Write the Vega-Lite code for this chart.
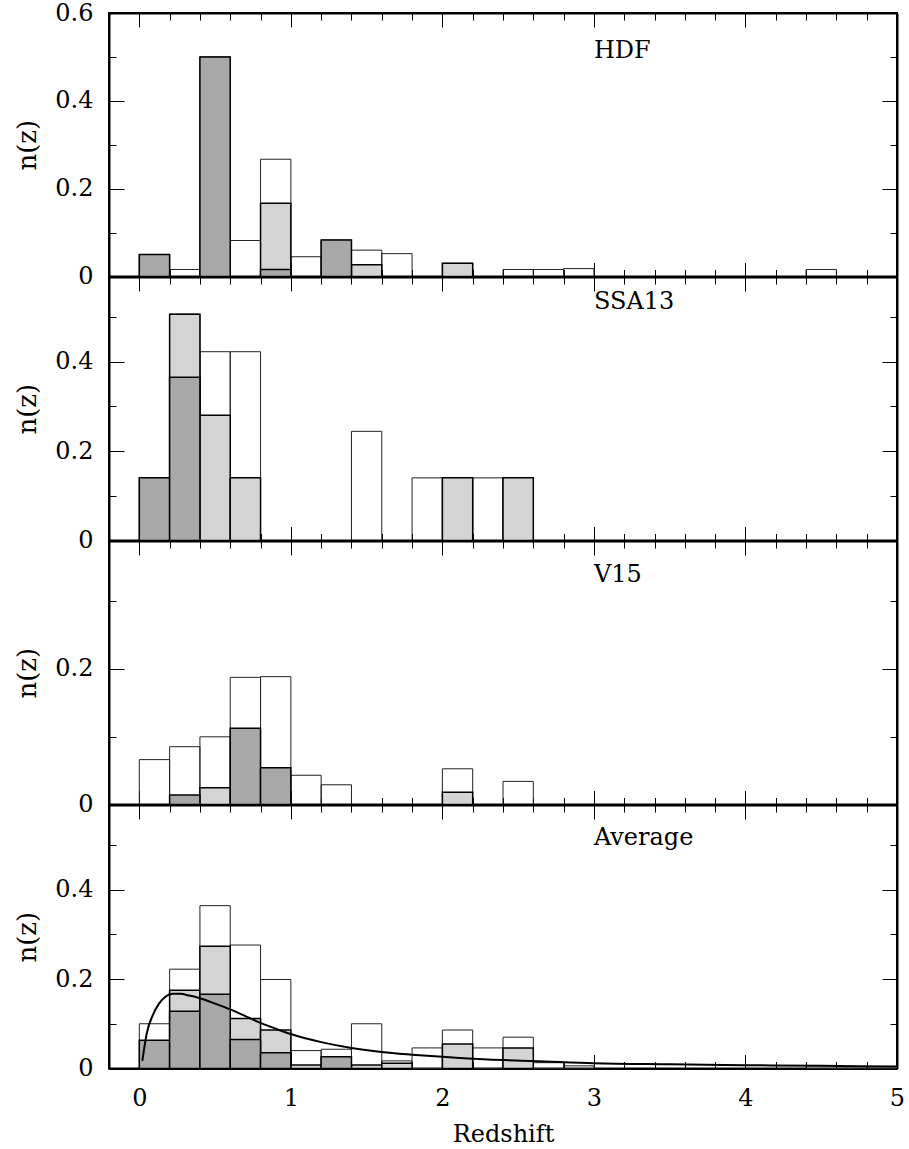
{
  "$schema": "https://vega.github.io/schema/vega-lite/v6.json",
  "background": "white",
  "padding": {"top": 0, "left": 13, "right": 12, "bottom": 0},
  "spacing": 0,
  "bounds": "flush",
  "config": {
    "view": {"stroke": "black", "strokeWidth": 2},
    "concat": {"spacing": 0},
    "axis": {
      "domain": true, "domainColor": "black", "domainWidth": 2, "grid": false, "tickColor": "black", "tickWidth": 1,
      "labelFont": "DejaVu Serif", "labelFontSize": 24, "labelColor": "black",
      "titleFont": "DejaVu Serif", "titleFontSize": 26, "titleFontWeight": "normal", "titleColor": "black",
      "labelFlush": false, "labelOverlap": false, "labelBound": false
    }
  },
  "datasets": {
    "bars": [
      {"p": "HDF", "k": "open", "z0": 0, "z1": 0.2, "n": 0.05},
      {"p": "HDF", "k": "open", "z0": 0.2, "z1": 0.4, "n": 0.016},
      {"p": "HDF", "k": "open", "z0": 0.4, "z1": 0.6, "n": 0.5},
      {"p": "HDF", "k": "open", "z0": 0.6, "z1": 0.8, "n": 0.082},
      {"p": "HDF", "k": "open", "z0": 0.8, "z1": 1.0, "n": 0.267},
      {"p": "HDF", "k": "open", "z0": 1.0, "z1": 1.2, "n": 0.045},
      {"p": "HDF", "k": "open", "z0": 1.2, "z1": 1.4, "n": 0.083},
      {"p": "HDF", "k": "open", "z0": 1.4, "z1": 1.6, "n": 0.06},
      {"p": "HDF", "k": "open", "z0": 1.6, "z1": 1.8, "n": 0.052},
      {"p": "HDF", "k": "open", "z0": 2.0, "z1": 2.2, "n": 0.03},
      {"p": "HDF", "k": "open", "z0": 2.4, "z1": 2.6, "n": 0.016},
      {"p": "HDF", "k": "open", "z0": 2.6, "z1": 2.8, "n": 0.016},
      {"p": "HDF", "k": "open", "z0": 2.8, "z1": 3.0, "n": 0.018},
      {"p": "HDF", "k": "open", "z0": 4.4, "z1": 4.6, "n": 0.016},
      {"p": "HDF", "k": "hatch", "z0": 0.8, "z1": 1.0, "n": 0.167},
      {"p": "HDF", "k": "hatch", "z0": 1.4, "z1": 1.6, "n": 0.027},
      {"p": "HDF", "k": "hatch", "z0": 2.0, "z1": 2.2, "n": 0.03},
      {"p": "HDF", "k": "cross", "z0": 0, "z1": 0.2, "n": 0.05},
      {"p": "HDF", "k": "cross", "z0": 0.4, "z1": 0.6, "n": 0.5},
      {"p": "HDF", "k": "cross", "z0": 0.8, "z1": 1.0, "n": 0.016},
      {"p": "HDF", "k": "cross", "z0": 1.2, "z1": 1.4, "n": 0.083},

      {"p": "SSA13", "k": "open", "z0": 0, "z1": 0.2, "n": 0.14},
      {"p": "SSA13", "k": "open", "z0": 0.2, "z1": 0.4, "n": 0.506},
      {"p": "SSA13", "k": "open", "z0": 0.4, "z1": 0.6, "n": 0.422},
      {"p": "SSA13", "k": "open", "z0": 0.6, "z1": 0.8, "n": 0.422},
      {"p": "SSA13", "k": "open", "z0": 1.4, "z1": 1.6, "n": 0.244},
      {"p": "SSA13", "k": "open", "z0": 1.8, "z1": 2.0, "n": 0.14},
      {"p": "SSA13", "k": "open", "z0": 2.0, "z1": 2.2, "n": 0.14},
      {"p": "SSA13", "k": "open", "z0": 2.2, "z1": 2.4, "n": 0.14},
      {"p": "SSA13", "k": "open", "z0": 2.4, "z1": 2.6, "n": 0.14},
      {"p": "SSA13", "k": "hatch", "z0": 0.2, "z1": 0.4, "n": 0.506},
      {"p": "SSA13", "k": "hatch", "z0": 0.4, "z1": 0.6, "n": 0.28},
      {"p": "SSA13", "k": "hatch", "z0": 0.6, "z1": 0.8, "n": 0.14},
      {"p": "SSA13", "k": "hatch", "z0": 2.0, "z1": 2.2, "n": 0.14},
      {"p": "SSA13", "k": "hatch", "z0": 2.4, "z1": 2.6, "n": 0.14},
      {"p": "SSA13", "k": "cross", "z0": 0, "z1": 0.2, "n": 0.14},
      {"p": "SSA13", "k": "cross", "z0": 0.2, "z1": 0.4, "n": 0.365},

      {"p": "V15", "k": "open", "z0": 0, "z1": 0.2, "n": 0.066},
      {"p": "V15", "k": "open", "z0": 0.2, "z1": 0.4, "n": 0.085},
      {"p": "V15", "k": "open", "z0": 0.4, "z1": 0.6, "n": 0.0995},
      {"p": "V15", "k": "open", "z0": 0.6, "z1": 0.8, "n": 0.187},
      {"p": "V15", "k": "open", "z0": 0.8, "z1": 1.0, "n": 0.188},
      {"p": "V15", "k": "open", "z0": 1.0, "z1": 1.2, "n": 0.043},
      {"p": "V15", "k": "open", "z0": 1.2, "z1": 1.4, "n": 0.029},
      {"p": "V15", "k": "open", "z0": 2.0, "z1": 2.2, "n": 0.0525},
      {"p": "V15", "k": "open", "z0": 2.4, "z1": 2.6, "n": 0.034},
      {"p": "V15", "k": "hatch", "z0": 0.4, "z1": 0.6, "n": 0.0245},
      {"p": "V15", "k": "hatch", "z0": 2.0, "z1": 2.2, "n": 0.018},
      {"p": "V15", "k": "cross", "z0": 0.2, "z1": 0.4, "n": 0.014},
      {"p": "V15", "k": "cross", "z0": 0.6, "z1": 0.8, "n": 0.112},
      {"p": "V15", "k": "cross", "z0": 0.8, "z1": 1.0, "n": 0.054},

      {"p": "Average", "k": "open", "z0": 0, "z1": 0.2, "n": 0.1},
      {"p": "Average", "k": "open", "z0": 0.2, "z1": 0.4, "n": 0.222},
      {"p": "Average", "k": "open", "z0": 0.4, "z1": 0.6, "n": 0.364},
      {"p": "Average", "k": "open", "z0": 0.6, "z1": 0.8, "n": 0.276},
      {"p": "Average", "k": "open", "z0": 0.8, "z1": 1.0, "n": 0.199},
      {"p": "Average", "k": "open", "z0": 1.0, "z1": 1.2, "n": 0.04},
      {"p": "Average", "k": "open", "z0": 1.2, "z1": 1.4, "n": 0.043},
      {"p": "Average", "k": "open", "z0": 1.4, "z1": 1.6, "n": 0.1},
      {"p": "Average", "k": "open", "z0": 1.6, "z1": 1.8, "n": 0.017},
      {"p": "Average", "k": "open", "z0": 1.8, "z1": 2.0, "n": 0.046},
      {"p": "Average", "k": "open", "z0": 2.0, "z1": 2.2, "n": 0.086},
      {"p": "Average", "k": "open", "z0": 2.2, "z1": 2.4, "n": 0.046},
      {"p": "Average", "k": "open", "z0": 2.4, "z1": 2.6, "n": 0.07},
      {"p": "Average", "k": "open", "z0": 2.6, "z1": 2.8, "n": 0.013},
      {"p": "Average", "k": "open", "z0": 2.8, "z1": 3.0, "n": 0.006},
      {"p": "Average", "k": "open", "z0": 4.4, "z1": 4.6, "n": 0.006},
      {"p": "Average", "k": "open", "z0": 4.6, "z1": 4.8, "n": 0.004},
      {"p": "Average", "k": "open", "z0": 4.8, "z1": 5.0, "n": 0.004},
      {"p": "Average", "k": "hatch", "z0": 0.2, "z1": 0.4, "n": 0.175},
      {"p": "Average", "k": "hatch", "z0": 0.4, "z1": 0.6, "n": 0.273},
      {"p": "Average", "k": "hatch", "z0": 0.6, "z1": 0.8, "n": 0.112},
      {"p": "Average", "k": "hatch", "z0": 0.8, "z1": 1.0, "n": 0.086},
      {"p": "Average", "k": "hatch", "z0": 1.0, "z1": 1.2, "n": 0.008},
      {"p": "Average", "k": "hatch", "z0": 1.4, "z1": 1.6, "n": 0.008},
      {"p": "Average", "k": "hatch", "z0": 1.6, "z1": 1.8, "n": 0.012},
      {"p": "Average", "k": "hatch", "z0": 2.0, "z1": 2.2, "n": 0.055},
      {"p": "Average", "k": "hatch", "z0": 2.4, "z1": 2.6, "n": 0.046},
      {"p": "Average", "k": "cross", "z0": 0, "z1": 0.2, "n": 0.063},
      {"p": "Average", "k": "cross", "z0": 0.2, "z1": 0.4, "n": 0.128},
      {"p": "Average", "k": "cross", "z0": 0.4, "z1": 0.6, "n": 0.166},
      {"p": "Average", "k": "cross", "z0": 0.6, "z1": 0.8, "n": 0.065},
      {"p": "Average", "k": "cross", "z0": 0.8, "z1": 1.0, "n": 0.035},
      {"p": "Average", "k": "cross", "z0": 1.2, "z1": 1.4, "n": 0.026}
    ],
    "curve": [
      {"z": 0.02, "v": 0.017}, {"z": 0.05, "v": 0.08}, {"z": 0.09, "v": 0.12},
      {"z": 0.13, "v": 0.145}, {"z": 0.17, "v": 0.16}, {"z": 0.22, "v": 0.167},
      {"z": 0.27, "v": 0.167}, {"z": 0.33, "v": 0.163}, {"z": 0.4, "v": 0.157},
      {"z": 0.5, "v": 0.145}, {"z": 0.6, "v": 0.132}, {"z": 0.7, "v": 0.117},
      {"z": 0.8, "v": 0.102}, {"z": 0.9, "v": 0.089}, {"z": 1.0, "v": 0.077},
      {"z": 1.2, "v": 0.059}, {"z": 1.4, "v": 0.046}, {"z": 1.6, "v": 0.037},
      {"z": 1.8, "v": 0.031}, {"z": 2.0, "v": 0.026}, {"z": 2.3, "v": 0.02},
      {"z": 2.6, "v": 0.017}, {"z": 3.0, "v": 0.012}, {"z": 3.5, "v": 0.0095},
      {"z": 4.0, "v": 0.0075}, {"z": 4.5, "v": 0.006}, {"z": 5.0, "v": 0.0045}
    ],
    "labels": [
      {"p": "HDF", "z": 3.0, "v": 0.497, "t": "HDF"},
      {"p": "SSA13", "z": 3.0, "v": 0.517, "t": "SSA13"},
      {"p": "V15", "z": 3.0, "v": 0.327, "t": "V15"},
      {"p": "Average", "z": 3.0, "v": 0.499, "t": "Average"}
    ]
  },
  "vconcat": [
    {
      "width": 788, "height": 263.5,
      "resolve": {"axis": {"x": "independent", "y": "independent"}},
      "layer": [
        {"data": {"name": "bars"}, "transform": [{"filter": "datum.p==='HDF' && datum.k==='open'"}],
         "mark": {"type": "bar", "fill": "transparent", "stroke": "#222222", "strokeWidth": 1},
         "encoding": {
           "x": {"field": "z0", "type": "quantitative", "scale": {"domain": [-0.2, 5], "nice": false, "zero": false},
                 "axis": {"orient": "bottom", "values": [0,0.2,0.4,0.6,0.8,1,1.2,1.4,1.6,1.8,2,2.2,2.4,2.6,2.8,3,3.2,3.4,3.6,3.8,4,4.2,4.4,4.6,4.8,5], "labels": false, "title": null,
                          "tickSize": {"condition": {"test": "abs(datum.value-round(datum.value))<0.001", "value": -14}, "value": -7}}},
           "x2": {"field": "z1"},
           "y": {"field": "n", "type": "quantitative", "scale": {"domain": [0, 0.6], "nice": false},
                 "axis": {"orient": "left", "values": [0,0.1,0.2,0.3,0.4,0.5,0.6], "title": "n(z)", "labelPadding": 31, "titlePadding": 14,
                          "labelExpr": "round(datum.value*10)%2===0 ? format(datum.value,'~g') : ''",
                          "tickSize": {"condition": {"test": "round(datum.value*10)%2===0", "value": -15}, "value": -7}}},
           "y2": {"datum": 0}
         }},
        {"data": {"name": "bars"}, "transform": [{"filter": "datum.p==='HDF' && datum.k==='hatch'"}],
         "mark": {"type": "bar", "fill": "#d4d4d4", "stroke": "black", "strokeWidth": 1.5},
         "encoding": {
           "x": {"field": "z0", "type": "quantitative", "scale": {"domain": [-0.2, 5], "nice": false, "zero": false},
                 "axis": {"orient": "top", "values": [0,0.2,0.4,0.6,0.8,1,1.2,1.4,1.6,1.8,2,2.2,2.4,2.6,2.8,3,3.2,3.4,3.6,3.8,4,4.2,4.4,4.6,4.8,5], "labels": false, "title": null,
                          "tickSize": {"condition": {"test": "abs(datum.value-round(datum.value))<0.001", "value": -14}, "value": -7}}},
           "x2": {"field": "z1"},
           "y": {"field": "n", "type": "quantitative", "scale": {"domain": [0, 0.6], "nice": false},
                 "axis": {"orient": "right", "values": [0,0.1,0.2,0.3,0.4,0.5,0.6], "labels": false, "title": null,
                          "tickSize": {"condition": {"test": "round(datum.value*10)%2===0", "value": -15}, "value": -7}}},
           "y2": {"datum": 0}
         }},
        {"data": {"name": "bars"}, "transform": [{"filter": "datum.p==='HDF' && datum.k==='cross'"}],
         "mark": {"type": "bar", "fill": "#a8a8a8", "stroke": "black", "strokeWidth": 1.5},
         "encoding": {
           "x": {"field": "z0", "type": "quantitative", "scale": {"domain": [-0.2, 5], "nice": false, "zero": false}, "axis": null},
           "x2": {"field": "z1"},
           "y": {"field": "n", "type": "quantitative", "scale": {"domain": [0, 0.6], "nice": false}, "axis": null},
           "y2": {"datum": 0}
         }},
        {"data": {"name": "labels"}, "transform": [{"filter": "datum.p==='HDF'"}],
         "mark": {"type": "text", "align": "left", "baseline": "alphabetic", "font": "DejaVu Serif", "fontSize": 24, "color": "black"},
         "encoding": {
           "x": {"field": "z", "type": "quantitative", "scale": {"domain": [-0.2, 5], "nice": false, "zero": false}, "axis": null},
           "y": {"field": "v", "type": "quantitative", "scale": {"domain": [0, 0.6], "nice": false}, "axis": null},
           "text": {"field": "t"}
         }}
      ]
    },
    {
      "width": 788, "height": 263.5,
      "resolve": {"axis": {"x": "independent", "y": "independent"}},
      "layer": [
        {"data": {"name": "bars"}, "transform": [{"filter": "datum.p==='SSA13' && datum.k==='open'"}],
         "mark": {"type": "bar", "fill": "transparent", "stroke": "#222222", "strokeWidth": 1},
         "encoding": {
           "x": {"field": "z0", "type": "quantitative", "scale": {"domain": [-0.2, 5], "nice": false, "zero": false},
                 "axis": {"orient": "bottom", "values": [0,0.2,0.4,0.6,0.8,1,1.2,1.4,1.6,1.8,2,2.2,2.4,2.6,2.8,3,3.2,3.4,3.6,3.8,4,4.2,4.4,4.6,4.8,5], "labels": false, "title": null,
                          "tickSize": {"condition": {"test": "abs(datum.value-round(datum.value))<0.001", "value": -14}, "value": -7}}},
           "x2": {"field": "z1"},
           "y": {"field": "n", "type": "quantitative", "scale": {"domain": [0, 0.589], "nice": false},
                 "axis": {"orient": "left", "values": [0,0.1,0.2,0.3,0.4,0.5], "title": "n(z)", "labelPadding": 31, "titlePadding": 14,
                          "labelExpr": "round(datum.value*10)%2===0 ? format(datum.value,'~g') : ''",
                          "tickSize": {"condition": {"test": "round(datum.value*10)%2===0", "value": -15}, "value": -7}}},
           "y2": {"datum": 0}
         }},
        {"data": {"name": "bars"}, "transform": [{"filter": "datum.p==='SSA13' && datum.k==='hatch'"}],
         "mark": {"type": "bar", "fill": "#d4d4d4", "stroke": "black", "strokeWidth": 1.5},
         "encoding": {
           "x": {"field": "z0", "type": "quantitative", "scale": {"domain": [-0.2, 5], "nice": false, "zero": false},
                 "axis": {"orient": "top", "values": [0,0.2,0.4,0.6,0.8,1,1.2,1.4,1.6,1.8,2,2.2,2.4,2.6,2.8,3,3.2,3.4,3.6,3.8,4,4.2,4.4,4.6,4.8,5], "labels": false, "title": null,
                          "tickSize": {"condition": {"test": "abs(datum.value-round(datum.value))<0.001", "value": -14}, "value": -7}}},
           "x2": {"field": "z1"},
           "y": {"field": "n", "type": "quantitative", "scale": {"domain": [0, 0.589], "nice": false},
                 "axis": {"orient": "right", "values": [0,0.1,0.2,0.3,0.4,0.5], "labels": false, "title": null,
                          "tickSize": {"condition": {"test": "round(datum.value*10)%2===0", "value": -15}, "value": -7}}},
           "y2": {"datum": 0}
         }},
        {"data": {"name": "bars"}, "transform": [{"filter": "datum.p==='SSA13' && datum.k==='cross'"}],
         "mark": {"type": "bar", "fill": "#a8a8a8", "stroke": "black", "strokeWidth": 1.5},
         "encoding": {
           "x": {"field": "z0", "type": "quantitative", "scale": {"domain": [-0.2, 5], "nice": false, "zero": false}, "axis": null},
           "x2": {"field": "z1"},
           "y": {"field": "n", "type": "quantitative", "scale": {"domain": [0, 0.589], "nice": false}, "axis": null},
           "y2": {"datum": 0}
         }},
        {"data": {"name": "labels"}, "transform": [{"filter": "datum.p==='SSA13'"}],
         "mark": {"type": "text", "align": "left", "baseline": "alphabetic", "font": "DejaVu Serif", "fontSize": 24, "color": "black"},
         "encoding": {
           "x": {"field": "z", "type": "quantitative", "scale": {"domain": [-0.2, 5], "nice": false, "zero": false}, "axis": null},
           "y": {"field": "v", "type": "quantitative", "scale": {"domain": [0, 0.589], "nice": false}, "axis": null},
           "text": {"field": "t"}
         }}
      ]
    },
    {
      "width": 788, "height": 263.5,
      "resolve": {"axis": {"x": "independent", "y": "independent"}},
      "layer": [
        {"data": {"name": "bars"}, "transform": [{"filter": "datum.p==='V15' && datum.k==='open'"}],
         "mark": {"type": "bar", "fill": "transparent", "stroke": "#222222", "strokeWidth": 1},
         "encoding": {
           "x": {"field": "z0", "type": "quantitative", "scale": {"domain": [-0.2, 5], "nice": false, "zero": false},
                 "axis": {"orient": "bottom", "values": [0,0.2,0.4,0.6,0.8,1,1.2,1.4,1.6,1.8,2,2.2,2.4,2.6,2.8,3,3.2,3.4,3.6,3.8,4,4.2,4.4,4.6,4.8,5], "labels": false, "title": null,
                          "tickSize": {"condition": {"test": "abs(datum.value-round(datum.value))<0.001", "value": -14}, "value": -7}}},
           "x2": {"field": "z1"},
           "y": {"field": "n", "type": "quantitative", "scale": {"domain": [0, 0.3875], "nice": false},
                 "axis": {"orient": "left", "values": [0,0.1,0.2,0.3], "title": "n(z)", "labelPadding": 31, "titlePadding": 14,
                          "labelExpr": "round(datum.value*10)%2===0 ? format(datum.value,'~g') : ''",
                          "tickSize": {"condition": {"test": "round(datum.value*10)%2===0", "value": -15}, "value": -7}}},
           "y2": {"datum": 0}
         }},
        {"data": {"name": "bars"}, "transform": [{"filter": "datum.p==='V15' && datum.k==='hatch'"}],
         "mark": {"type": "bar", "fill": "#d4d4d4", "stroke": "black", "strokeWidth": 1.5},
         "encoding": {
           "x": {"field": "z0", "type": "quantitative", "scale": {"domain": [-0.2, 5], "nice": false, "zero": false},
                 "axis": {"orient": "top", "values": [0,0.2,0.4,0.6,0.8,1,1.2,1.4,1.6,1.8,2,2.2,2.4,2.6,2.8,3,3.2,3.4,3.6,3.8,4,4.2,4.4,4.6,4.8,5], "labels": false, "title": null,
                          "tickSize": {"condition": {"test": "abs(datum.value-round(datum.value))<0.001", "value": -14}, "value": -7}}},
           "x2": {"field": "z1"},
           "y": {"field": "n", "type": "quantitative", "scale": {"domain": [0, 0.3875], "nice": false},
                 "axis": {"orient": "right", "values": [0,0.1,0.2,0.3], "labels": false, "title": null,
                          "tickSize": {"condition": {"test": "round(datum.value*10)%2===0", "value": -15}, "value": -7}}},
           "y2": {"datum": 0}
         }},
        {"data": {"name": "bars"}, "transform": [{"filter": "datum.p==='V15' && datum.k==='cross'"}],
         "mark": {"type": "bar", "fill": "#a8a8a8", "stroke": "black", "strokeWidth": 1.5},
         "encoding": {
           "x": {"field": "z0", "type": "quantitative", "scale": {"domain": [-0.2, 5], "nice": false, "zero": false}, "axis": null},
           "x2": {"field": "z1"},
           "y": {"field": "n", "type": "quantitative", "scale": {"domain": [0, 0.3875], "nice": false}, "axis": null},
           "y2": {"datum": 0}
         }},
        {"data": {"name": "labels"}, "transform": [{"filter": "datum.p==='V15'"}],
         "mark": {"type": "text", "align": "left", "baseline": "alphabetic", "font": "DejaVu Serif", "fontSize": 24, "color": "black"},
         "encoding": {
           "x": {"field": "z", "type": "quantitative", "scale": {"domain": [-0.2, 5], "nice": false, "zero": false}, "axis": null},
           "y": {"field": "v", "type": "quantitative", "scale": {"domain": [0, 0.3875], "nice": false}, "axis": null},
           "text": {"field": "t"}
         }}
      ]
    },
    {
      "width": 788, "height": 263.5,
      "resolve": {"axis": {"x": "independent", "y": "independent"}},
      "layer": [
        {"data": {"name": "bars"}, "transform": [{"filter": "datum.p==='Average' && datum.k==='open'"}],
         "mark": {"type": "bar", "fill": "transparent", "stroke": "#222222", "strokeWidth": 1},
         "encoding": {
           "x": {"field": "z0", "type": "quantitative", "scale": {"domain": [-0.2, 5], "nice": false, "zero": false},
                 "axis": {"orient": "bottom", "values": [0,0.2,0.4,0.6,0.8,1,1.2,1.4,1.6,1.8,2,2.2,2.4,2.6,2.8,3,3.2,3.4,3.6,3.8,4,4.2,4.4,4.6,4.8,5],
                          "title": "Redshift", "titleFontSize": 24, "labelPadding": 32, "titlePadding": 5,
                          "labelExpr": "abs(datum.value-round(datum.value))<0.001 ? format(datum.value,'d') : ''",
                          "tickSize": {"condition": {"test": "abs(datum.value-round(datum.value))<0.001", "value": -14}, "value": -7}}},
           "x2": {"field": "z1"},
           "y": {"field": "n", "type": "quantitative", "scale": {"domain": [0, 0.589], "nice": false},
                 "axis": {"orient": "left", "values": [0,0.1,0.2,0.3,0.4,0.5], "title": "n(z)", "labelPadding": 31, "titlePadding": 14,
                          "labelExpr": "round(datum.value*10)%2===0 ? format(datum.value,'~g') : ''",
                          "tickSize": {"condition": {"test": "round(datum.value*10)%2===0", "value": -15}, "value": -7}}},
           "y2": {"datum": 0}
         }},
        {"data": {"name": "bars"}, "transform": [{"filter": "datum.p==='Average' && datum.k==='hatch'"}],
         "mark": {"type": "bar", "fill": "#d4d4d4", "stroke": "black", "strokeWidth": 1.5},
         "encoding": {
           "x": {"field": "z0", "type": "quantitative", "scale": {"domain": [-0.2, 5], "nice": false, "zero": false},
                 "axis": {"orient": "top", "values": [0,0.2,0.4,0.6,0.8,1,1.2,1.4,1.6,1.8,2,2.2,2.4,2.6,2.8,3,3.2,3.4,3.6,3.8,4,4.2,4.4,4.6,4.8,5], "labels": false, "title": null,
                          "tickSize": {"condition": {"test": "abs(datum.value-round(datum.value))<0.001", "value": -14}, "value": -7}}},
           "x2": {"field": "z1"},
           "y": {"field": "n", "type": "quantitative", "scale": {"domain": [0, 0.589], "nice": false},
                 "axis": {"orient": "right", "values": [0,0.1,0.2,0.3,0.4,0.5], "labels": false, "title": null,
                          "tickSize": {"condition": {"test": "round(datum.value*10)%2===0", "value": -15}, "value": -7}}},
           "y2": {"datum": 0}
         }},
        {"data": {"name": "bars"}, "transform": [{"filter": "datum.p==='Average' && datum.k==='cross'"}],
         "mark": {"type": "bar", "fill": "#a8a8a8", "stroke": "black", "strokeWidth": 1.5},
         "encoding": {
           "x": {"field": "z0", "type": "quantitative", "scale": {"domain": [-0.2, 5], "nice": false, "zero": false}, "axis": null},
           "x2": {"field": "z1"},
           "y": {"field": "n", "type": "quantitative", "scale": {"domain": [0, 0.589], "nice": false}, "axis": null},
           "y2": {"datum": 0}
         }},
        {"data": {"name": "curve"},
         "mark": {"type": "line", "interpolate": "monotone", "stroke": "black", "strokeWidth": 2},
         "encoding": {
           "x": {"field": "z", "type": "quantitative", "scale": {"domain": [-0.2, 5], "nice": false, "zero": false}, "axis": null},
           "y": {"field": "v", "type": "quantitative", "scale": {"domain": [0, 0.589], "nice": false}, "axis": null}
         }},
        {"data": {"name": "labels"}, "transform": [{"filter": "datum.p==='Average'"}],
         "mark": {"type": "text", "align": "left", "baseline": "alphabetic", "font": "DejaVu Serif", "fontSize": 24, "color": "black"},
         "encoding": {
           "x": {"field": "z", "type": "quantitative", "scale": {"domain": [-0.2, 5], "nice": false, "zero": false}, "axis": null},
           "y": {"field": "v", "type": "quantitative", "scale": {"domain": [0, 0.589], "nice": false}, "axis": null},
           "text": {"field": "t"}
         }}
      ]
    }
  ]
}
